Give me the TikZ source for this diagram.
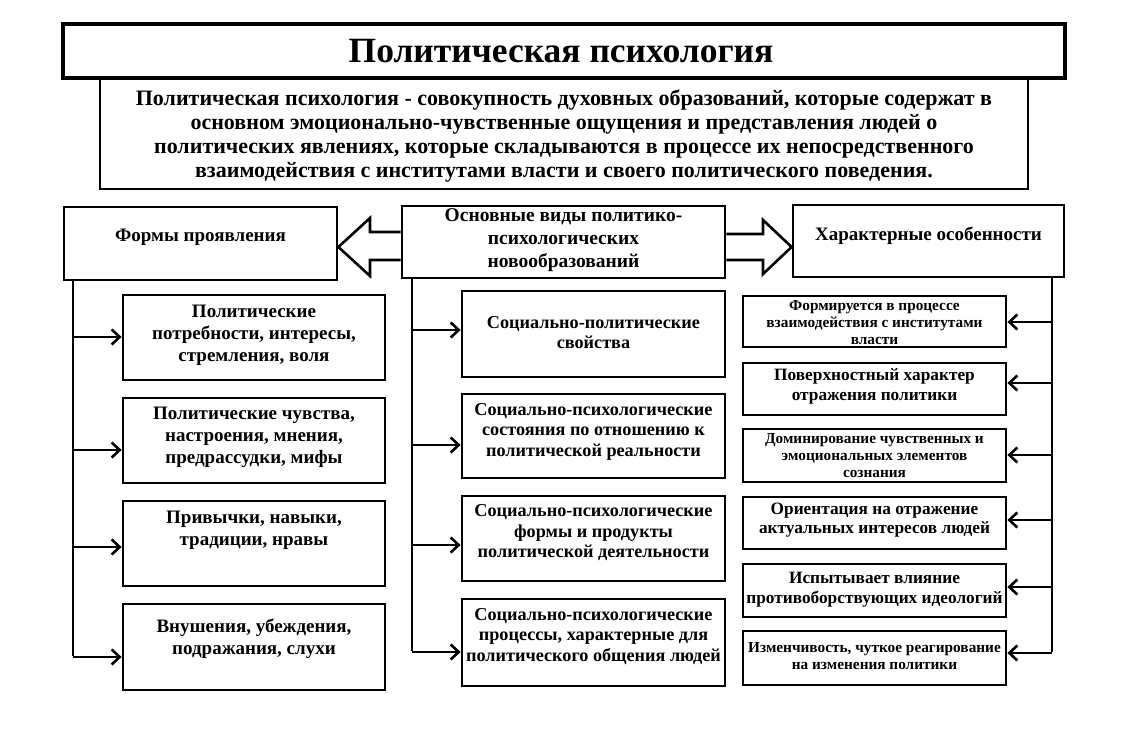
\documentclass[tikz,border=0pt]{standalone}
\usepackage{fontspec}
\setmainfont{Liberation Serif}
\usetikzlibrary{arrows.meta}
\begin{document}
\begin{tikzpicture}[x=1pt,y=-1pt,
  frame/.style={draw, line width=2.8pt, inner sep=0pt},
  txt/.style={align=center, inner sep=0pt, font=\bfseries},
  arr/.style={line width=2.6pt, -{Straight Barb[length=8pt,width=15pt,line width=2.6pt]}},
  trunk/.style={line width=2.6pt},
  hollow/.style={draw, line width=2.6pt, fill=white, line join=miter}]
\useasboundingbox (0,0) rectangle (1128,749);
\fill[white] (0,0) rectangle (1128,749);
% title
\node[frame, line width=3.2pt, minimum width=1002, minimum height=54] (title) at (564,51) {};
\node[txt, font=\bfseries\fontsize{35.5}{40}\selectfont] (titlet) at (561,51) {Политическая психология};
% definition
\node[frame, minimum width=928, minimum height=111] (def) at (564,133.5) {};
\node[txt, font=\bfseries\fontsize{22}{24}\selectfont] (deft) at (564,136) {Политическая психология - совокупность духовных образований, которые содержат в\\основном эмоционально-чувственные ощущения и представления людей о\\политических явлениях, которые складываются в процессе их непосредственного\\взаимодействия с институтами власти и своего политического поведения.};
% headers
\node[frame, minimum width=273, minimum height=73] (hl) at (200.5,243.5) {};
\node[txt, font=\bfseries\fontsize{19}{23}\selectfont] (hlt) at (200.5,237) {Формы проявления};
\node[frame, minimum width=323, minimum height=72] (hm) at (563.5,242) {};
\node[txt, font=\bfseries\fontsize{19.5}{23}\selectfont] (hmt) at (563.5,240) {Основные виды политико-\\психологических\\новообразований};
\node[frame, minimum width=271, minimum height=72] (hr) at (928.5,241) {};
\node[txt, font=\bfseries\fontsize{19}{23}\selectfont] (hrt) at (928.5,236) {Характерные особенности};
% hollow arrows
\draw[hollow] (hm.west |- 0,232) -- (370,232) -- (370,218) -- (hl.east |- 0,247) -- (370,276) -- (370,260) -- (hm.west |- 0,260);
\draw[hollow] (hm.east |- 0,234) -- (763,234) -- (763,220) -- (hr.west |- 0,247) -- (763,274) -- (763,260) -- (hm.east |- 0,260);
% left column
\node[frame, minimum width=262, minimum height=85] (l1) at (254,337.5) {};
\node[frame, minimum width=262, minimum height=85] (l2) at (254,440.5) {};
\node[frame, minimum width=262, minimum height=85] (l3) at (254,543.5) {};
\node[frame, minimum width=262, minimum height=86] (l4) at (254,647) {};
\tikzset{ltx/.style={txt, font=\bfseries\fontsize{19}{22}\selectfont}}
\node[ltx] (l1t) at (254,335) {Политические\\потребности, интересы,\\стремления, воля};
\node[ltx] (l2t) at (254,437) {Политические чувства,\\настроения, мнения,\\предрассудки, мифы};
\node[ltx] (l3t) at (254,530) {Привычки, навыки,\\традиции, нравы};
\node[ltx] (l4t) at (254,638.5) {Внушения, убеждения,\\подражания, слухи};
\coordinate (lt0) at (73,280);
\coordinate (lt1) at (73,337);
\coordinate (lt2) at (73,450);
\coordinate (lt3) at (73,547);
\coordinate (lt4) at (73,657);
\draw[trunk] (lt0) -- ([yshift=1.3pt]lt4);
\draw[arr] (lt1) -- (lt1 -| l1.west);
\draw[arr] (lt2) -- (lt2 -| l2.west);
\draw[arr] (lt3) -- (lt3 -| l3.west);
\draw[arr] (lt4) -- (lt4 -| l4.west);
% middle column
\node[frame, minimum width=263, minimum height=86] (m1) at (593.5,334) {};
\node[frame, minimum width=263, minimum height=84] (m2) at (593.5,436) {};
\node[frame, minimum width=263, minimum height=85] (m3) at (593.5,538.5) {};
\node[frame, minimum width=263, minimum height=87] (m4) at (593.5,642.5) {};
\tikzset{mtx/.style={txt, font=\bfseries\fontsize{18.2}{20.5}\selectfont}}
\node[mtx] (m1t) at (593.5,332.5) {Социально-политические\\свойства};
\node[mtx] (m2t) at (593.5,431.5) {Социально-психологические\\состояния по отношению к\\политической реальности};
\node[mtx] (m3t) at (593.5,533) {Социально-психологические\\формы и продукты\\политической деятельности};
\node[mtx] (m4t) at (593.5,636.5) {Социально-психологические\\процессы, характерные для\\политического общения людей};
\coordinate (mt0) at (412,278);
\coordinate (mt1) at (412,330);
\coordinate (mt2) at (412,445);
\coordinate (mt3) at (412,545);
\coordinate (mt4) at (412,652);
\draw[trunk] (mt0) -- ([yshift=1.3pt]mt4);
\draw[arr] (mt1) -- (mt1 -| m1.west);
\draw[arr] (mt2) -- (mt2 -| m2.west);
\draw[arr] (mt3) -- (mt3 -| m3.west);
\draw[arr] (mt4) -- (mt4 -| m4.west);
% right column
\node[frame, minimum width=263, minimum height=51] (r1) at (874.5,321.5) {};
\node[frame, minimum width=263, minimum height=52] (r2) at (874.5,389) {};
\node[frame, minimum width=263, minimum height=53] (r3) at (874.5,455.5) {};
\node[frame, minimum width=263, minimum height=52] (r4) at (874.5,523) {};
\node[frame, minimum width=263, minimum height=53] (r5) at (874.5,590.5) {};
\node[frame, minimum width=263, minimum height=54] (r6) at (874.5,658) {};
\tikzset{rsm/.style={txt, font=\bfseries\fontsize{15.3}{17}\selectfont},
         rbg/.style={txt, font=\bfseries\fontsize{17.3}{19.5}\selectfont}}
\node[rsm] (r1t) at (874.5,323) {Формируется в процессе\\взаимодействия с институтами\\власти};
\node[rbg] (r2t) at (874.5,386.5) {Поверхностный характер\\отражения политики};
\node[rsm] (r3t) at (874.5,456) {Доминирование чувственных и\\эмоциональных элементов\\сознания};
\node[rbg] (r4t) at (874.5,520) {Ориентация на отражение\\актуальных интересов людей};
\node[rbg] (r5t) at (874.5,589.5) {Испытывает влияние\\противоборствующих идеологий};
\node[rsm] (r6t) at (874.5,656) {Изменчивость, чуткое реагирование\\на изменения политики};
\coordinate (rt0) at (1052,277);
\coordinate (rt1) at (1052,322);
\coordinate (rt2) at (1052,383);
\coordinate (rt3) at (1052,455);
\coordinate (rt4) at (1052,520);
\coordinate (rt5) at (1052,587);
\coordinate (rt6) at (1052,653);
\draw[trunk] (rt0) -- ([yshift=1.3pt]rt6);
\draw[arr] (rt1) -- (rt1 -| r1.east);
\draw[arr] (rt2) -- (rt2 -| r2.east);
\draw[arr] (rt3) -- (rt3 -| r3.east);
\draw[arr] (rt4) -- (rt4 -| r4.east);
\draw[arr] (rt5) -- (rt5 -| r5.east);
\draw[arr] (rt6) -- (rt6 -| r6.east);
\end{tikzpicture}
\end{document}
